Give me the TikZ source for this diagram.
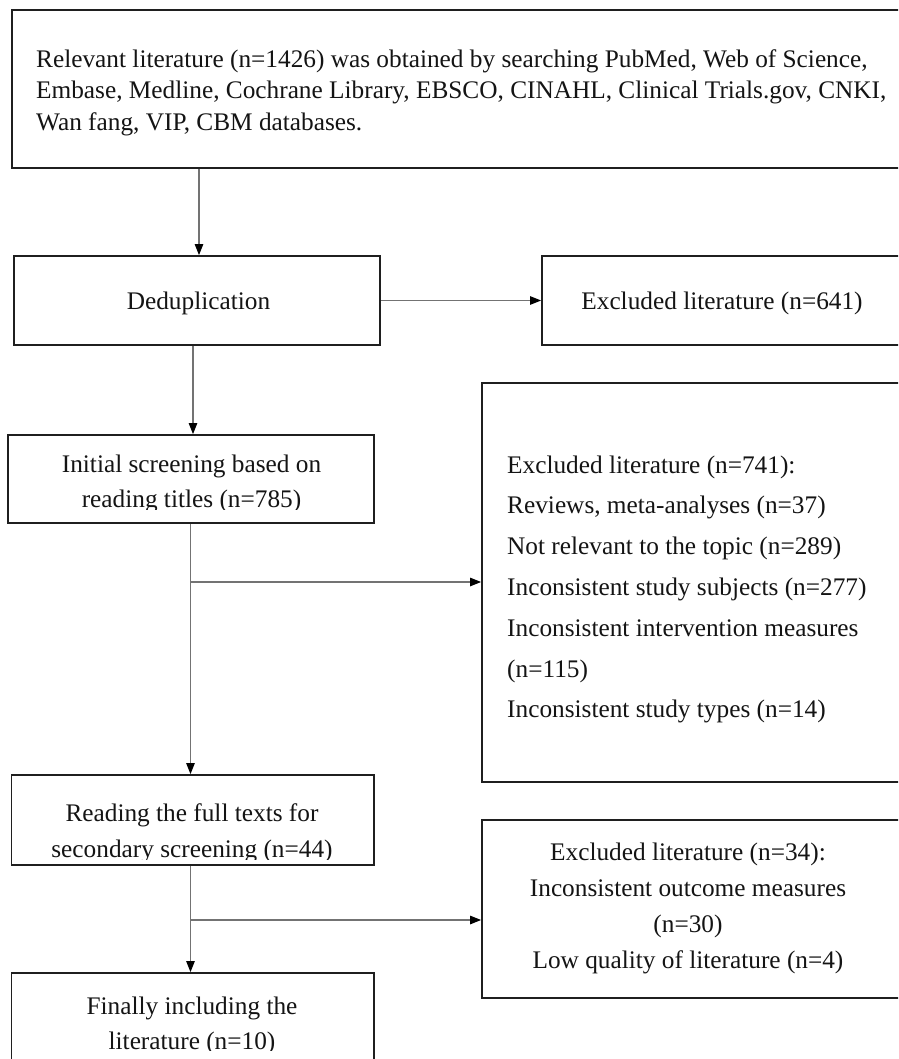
\documentclass[tikz,border=0pt]{standalone}
\usepackage{fontspec}
\setmainfont{Liberation Serif}
\usetikzlibrary{arrows.meta}
\begin{document}
\begin{tikzpicture}[x=1pt,y=-1pt,
  box/.style={draw=black!88, line width=1.8pt, inner sep=0pt, rectangle},
  txt/.style={inner sep=0pt, text=black!92},
  f32/.style={font=\fontsize{25.3}{31.5}\selectfont},
  f35/.style={font=\fontsize{25.3}{35}\selectfont},
  f36/.style={font=\fontsize{25.3}{36}\selectfont},
  f41/.style={font=\fontsize{25.3}{40.8}\selectfont},
  arr/.style={draw=black!55, line width=1.1pt, -{Triangle[length=11pt,width=8.5pt,color=black]}}]
\useasboundingbox (0,0) rectangle (898,1059);
\fill[white] (0,0) rectangle (898,1059);
\clip (0,0) rectangle (898,1059);

% boxes
\node[box, minimum width=888pt, minimum height=158pt] (top) at (456,89) {};
\node[box, minimum width=366pt, minimum height=89pt] (dedup) at (197,300.5) {};
\node[box, minimum width=360pt, minimum height=89pt] (ex641) at (722,300.5) {};
\node[box, minimum width=366pt, minimum height=88pt] (init) at (191,479) {};
\node[box, minimum width=420pt, minimum height=399pt] (ex741) at (692,582.5) {};
\node[box, minimum width=362.5pt, minimum height=90pt] (read) at (192.75,820) {};
\node[box, minimum width=420pt, minimum height=178pt] (ex34) at (692,909) {};
\node[box, minimum width=362.5pt, minimum height=130pt] (final) at (192.75,1038) {};

% texts
\node[txt, f32, anchor=west, align=left] (topT) at (36,92.5)
  {Relevant literature (n=1426) was obtained by searching PubMed, Web of Science,\\
   Embase, Medline, Cochrane Library, EBSCO, CINAHL, Clinical Trials.gov, CNKI,\\
   Wan fang, VIP, CBM databases.};
\node[txt, f36] (dedupT) at (198.5,303) {Deduplication};
\node[txt, f36] (ex641T) at (722,303) {Excluded literature (n=641)};
\node[txt, f41, anchor=west, align=left] (ex741T) at (507,589.5)
  {Excluded literature (n=741):\\
   Reviews, meta-analyses (n=37)\\
   Not relevant to the topic (n=289)\\
   Inconsistent study subjects (n=277)\\
   Inconsistent intervention measures\\
   (n=115)\\
   Inconsistent study types (n=14)};
\node[txt, f36, align=center] (ex34T) at (688,908)
  {Excluded literature (n=34):\\
   Inconsistent outcome measures\\
   (n=30)\\
   Low quality of literature (n=4)};
\begin{scope}
  \clip (0,430) rectangle (380,509);
  \node[txt, f35, align=center] (initT) at (191.5,484)
    {Initial screening based on\\ reading titles (n=785)};
\end{scope}
\begin{scope}
  \clip (0,770) rectangle (380,859);
  \node[txt, f36, align=center] (readT) at (192,833)
    {Reading the full texts for\\ secondary screening (n=44)};
\end{scope}
\begin{scope}
  \clip (0,970) rectangle (380,1050);
  \node[txt, f35, align=center] (finalT) at (192,1026)
    {Finally including the\\ literature (n=10)};
\end{scope}

% connectors
\coordinate (j1) at (190.5,582);
\coordinate (j2) at (190.5,920);
\draw[arr] ([xshift=2pt]dedup.north |- top.south) -- ([xshift=2pt]dedup.north);
\draw[arr] (dedup.east) -- (ex641.west);
\draw[arr] ([xshift=2pt]init.north |- dedup.south) -- ([xshift=2pt]init.north);
\draw[arr] ([xshift=-2.25pt]read.north |- init.south) -- ([xshift=-2.25pt]read.north);
\draw[arr] (j1) -- (j1 -| ex741.west);
\draw[arr] ([xshift=-2.25pt]final.north |- read.south) -- ([xshift=-2.25pt]final.north);
\draw[arr] (j2) -- (j2 -| ex34.west);
\end{tikzpicture}
\end{document}
